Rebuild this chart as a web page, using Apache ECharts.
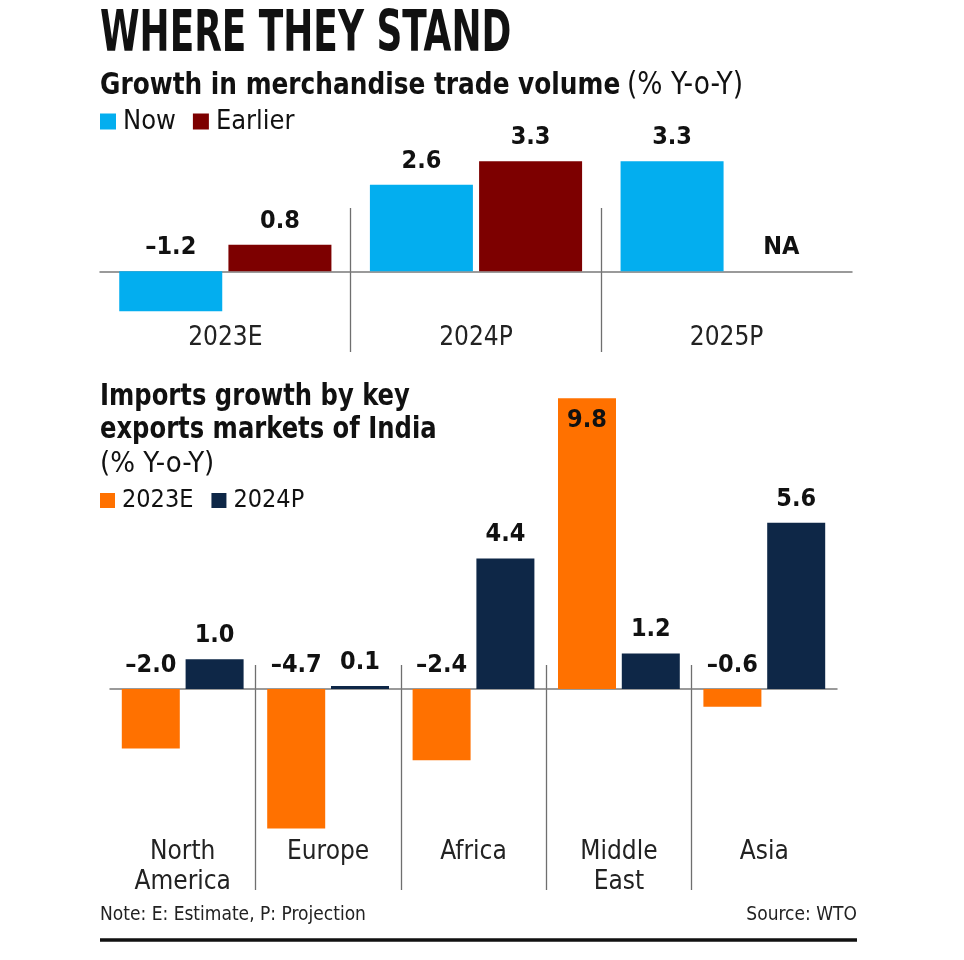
<!DOCTYPE html>
<html><head><meta charset="utf-8">
<script src="https://cdn.jsdelivr.net/npm/echarts@6/dist/echarts.min.js"></script>
<style>html,body{margin:0;padding:0;background:#fff}#c{width:964px;height:960px}</style>
</head><body><div id="c"></div>
<script>
// ---- data ----
const topCategories = ['2023E', '2024P', '2025P'];
const nowValues = [-1.2, 2.6, 3.3];
const earlierValues = [0.8, 3.3, null]; // null = NA
const regionCategories = ['North\nAmerica', 'Europe', 'Africa', 'Middle\nEast', 'Asia'];
const est2023Values = [-2.0, -4.7, -2.4, 9.8, -0.6];
const proj2024Values = [1.0, 0.1, 4.4, 1.2, 5.6];

// ---- styles ----
const NARROW = "'Liberation Sans Narrow','DejaVu Sans Condensed','Arial Narrow',sans-serif";
const C_NOW = '#03AEEF', C_EARLIER = '#7D0000', C_2023 = '#FF7100', C_2024 = '#0E2747';
const fmt = v => (v < 0 ? '\u2013' + Math.abs(v).toFixed(1) : v.toFixed(1));
const valLabel = {
  show: true, position: 'top', distance: 11, color: '#111',
  fontFamily: NARROW, fontWeight: 'bold', fontSize: 25,
  formatter: p => fmt(p.value)
};

function mkData(arr) {
  return arr.map(v => v == null
    ? { value: 0, label: { formatter: 'NA' } }
    : (v > 9 ? { value: v, label: { position: 'insideTop', distance: 10 } } : v));
}

const chart = echarts.init(document.getElementById('c'), null, { renderer: 'canvas' });
const catAxisCommon = {
  type: 'category',
  axisTick: { show: false },
  axisLine: { onZero: true, lineStyle: { color: '#7a7a7a', width: 1.5 } },
  splitLine: { show: true, interval: 0, showMinLine: false, showMaxLine: false, lineStyle: { color: '#6f6f6f', width: 1.3 } },
};
chart.setOption({
  animation: false,
  backgroundColor: '#fff',
  graphic: [
    { type: 'text', x: 100, y: 36, scaleX: 0.70, style: { text: 'WHERE THEY STAND', font: 'bold 57px ' + NARROW, fill: '#111', textVerticalAlign: 'middle' } },
    { type: 'text', x: 100, y: 86, scaleX: 0.92, style: {
      text: '{b|Growth in merchandise trade volume} {r|(% Y-o-Y)}', textVerticalAlign: 'middle',
      rich: { b: { font: 'bold 30px ' + NARROW, fill: '#111' }, r: { font: '32px ' + NARROW, fill: '#111', padding: [0, 0, 0, 4] } } } },
    { type: 'text', x: 100, y: 397, scaleX: 0.87, style: { text: 'Imports growth by key', font: 'bold 31px ' + NARROW, fill: '#111', textVerticalAlign: 'middle' } },
    { type: 'text', x: 100, y: 430, scaleX: 0.87, style: { text: 'exports markets of India', font: 'bold 31px ' + NARROW, fill: '#111', textVerticalAlign: 'middle' } },
    { type: 'text', x: 100, y: 464, style: { text: '(% Y-o-Y)', font: '29px ' + NARROW, fill: '#111', textVerticalAlign: 'middle' } },
    { type: 'text', x: 100, y: 915, style: { text: 'Note: E: Estimate, P: Projection', font: '19px ' + NARROW, fill: '#222', textVerticalAlign: 'middle' } },
    { type: 'text', x: 857, y: 915, style: { text: 'Source: WTO', font: '19px ' + NARROW, fill: '#222', textVerticalAlign: 'middle', textAlign: 'right' } },
    { type: 'line', shape: { x1: 100, y1: 940, x2: 857, y2: 940 }, style: { stroke: '#111', lineWidth: 3.5 } }
  ],
  legend: [
    { data: ['Now', 'Earlier'], left: 100, top: 108, padding: 0, icon: 'rect', itemWidth: 16, itemHeight: 16, itemGap: 17,
      textStyle: { fontFamily: NARROW, fontSize: 27, color: '#111', padding: [0, 0, 0, 2] } },
    { data: ['2023E', '2024P'], left: 100, top: 488, padding: 0, icon: 'rect', itemWidth: 15, itemHeight: 15, itemGap: 18,
      textStyle: { fontFamily: NARROW, fontSize: 25, color: '#111', padding: [0, 0, 0, 2] } }
  ],
  grid: [
    { left: 100, right: 112, top: 208, height: 144, outerBoundsMode: 'none', containLabel: false },
    { left: 110, right: 127, top: 665, height: 225, outerBoundsMode: 'none', containLabel: false }
  ],
  xAxis: [
    Object.assign({}, catAxisCommon, { gridIndex: 0, data: topCategories,
      axisLabel: { interval: 0, margin: -27, color: '#222', fontFamily: NARROW, fontSize: 26 } }),
    Object.assign({}, catAxisCommon, { gridIndex: 1, data: regionCategories,
      axisLabel: { interval: 0, margin: -53, color: '#222', fontFamily: NARROW, fontSize: 26, lineHeight: 30 } })
  ],
  yAxis: [
    { type: 'value', gridIndex: 0, min: -2.42, max: 1.9, show: false },
    { type: 'value', gridIndex: 1, min: -6.77, max: 0.81, show: false }
  ],
  series: [
    { name: 'Now', type: 'bar', xAxisIndex: 0, yAxisIndex: 0, clip: false, barWidth: 103, barGap: '6%',
      itemStyle: { color: C_NOW }, label: valLabel, data: mkData(nowValues) },
    { name: 'Earlier', type: 'bar', xAxisIndex: 0, yAxisIndex: 0, clip: false, barWidth: 103, barGap: '6%',
      itemStyle: { color: C_EARLIER }, label: valLabel, data: mkData(earlierValues) },
    { name: '2023E', type: 'bar', xAxisIndex: 1, yAxisIndex: 1, clip: false, barWidth: 58, barGap: '10%',
      itemStyle: { color: C_2023 }, label: valLabel, data: mkData(est2023Values) },
    { name: '2024P', type: 'bar', xAxisIndex: 1, yAxisIndex: 1, clip: false, barWidth: 58, barGap: '10%',
      itemStyle: { color: C_2024 }, label: valLabel, data: mkData(proj2024Values) }
  ]
});
</script></body></html>
